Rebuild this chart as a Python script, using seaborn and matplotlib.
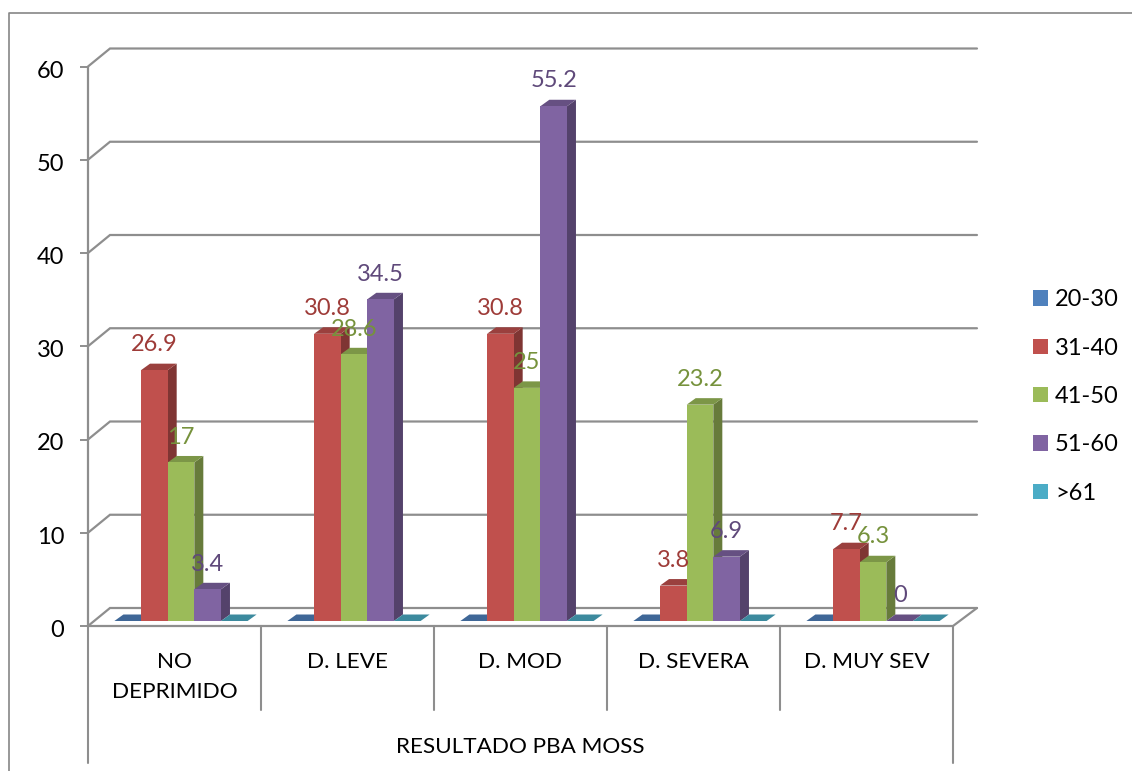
import matplotlib
matplotlib.use("Agg")
import matplotlib.pyplot as plt
import matplotlib.transforms as mtransforms
import pandas as pd
import seaborn as sns
from matplotlib.lines import Line2D
from matplotlib.patches import Patch, Polygon

categories = ["NO\nDEPRIMIDO", "D. LEVE", "D. MOD", "D. SEVERA", "D. MUY SEV"]
age_groups = ["20-30", "31-40", "41-50", "51-60", ">61"]
values_20_30 = [0, 0, 0, 0, 0]
values_31_40 = [26.9, 30.8, 30.8, 3.8, 7.7]
values_41_50 = [17, 28.6, 25, 23.2, 6.3]
values_51_60 = [3.4, 34.5, 55.2, 6.9, 0]
values_61_up = [0, 0, 0, 0, 0]
labelled_groups = ["31-40", "41-50", "51-60"]

front_colors = ["#4F81BD", "#C0504D", "#9BBB59", "#8064A2", "#4BACC6"]
top_colors = ["#3F6797", "#9A403E", "#7C9647", "#665082", "#3C8A9E"]
side_colors = ["#2F4D71", "#7F3533", "#677B3B", "#54426B", "#317182"]
label_colors = {"31-40": "#9E3B38", "41-50": "#76923C", "51-60": "#5F497A"}
GRAY = "#8E8E8E"
FONT = "Lato"
FS_TEXT = 16.2
FS_NUM = 17

W, H = 1132, 771
AX_L, AX_R, AX_B, AX_T = 88, 953, 626, 66.5

sns.set_theme(style="white")
plt.rcParams["font.family"] = [FONT, "DejaVu Sans"]

frame = pd.DataFrame({
    "categoria": categories * 5,
    "edad": [g for g in age_groups for _ in categories],
    "valor": values_20_30 + values_31_40 + values_41_50 + values_51_60 + values_61_up,
})

fig = plt.figure(figsize=(W / 100, H / 100), dpi=100, facecolor="white")
ax = fig.add_axes([AX_L / W, 1 - AX_B / H, (AX_R - AX_L) / W, (AX_B - AX_T) / H])

sns.barplot(data=frame, x="categoria", y="valor", hue="edad", hue_order=age_groups,
            palette=front_colors, saturation=1, width=0.77, gap=0, legend=False,
            errorbar=None, ax=ax)
ax.set_xlim(-0.5, 4.5)
ax.set_ylim(0, 60)
for side in ax.spines.values():
    side.set_visible(False)

# pixel lengths expressed in data units
ux = 5 / (AX_R - AX_L)
uy = 60 / (AX_B - AX_T)

# back wall and floor
wall_dx, wall_dy = 22 * ux, 18 * uy
for level in range(0, 70, 10):
    ax.plot([-0.5, -0.5 + wall_dx, 4.5 + wall_dx * 1.09],
            [level, level + wall_dy, level + wall_dy],
            color=GRAY, lw=1.6, clip_on=False, zorder=1, solid_joinstyle="miter")
ax.plot([-0.5, 4.5, 4.5 + wall_dx * 1.09], [0, 0, wall_dy], color=GRAY, lw=1.6,
        clip_on=False, zorder=2)
ax.plot([-0.5, -0.5], [0, 60], color=GRAY, lw=1.6, clip_on=False, zorder=2)

# extruded faces for every column, painted left to right
lift_x, lift_y = 6.5 * ux, 5 * uy
depth_x, depth_y = 9 * ux, 6.5 * uy
columns = []
for g, container in enumerate(ax.containers):
    for c, bar in enumerate(container):
        columns.append((bar.get_x(), g, c, bar))
columns.sort(key=lambda item: item[0])

for order, (_, g, c, bar) in enumerate(columns):
    x0 = bar.get_x() + lift_x
    y0 = bar.get_y() + lift_y
    w, h = bar.get_width(), bar.get_height()
    bar.set_x(x0)
    bar.set_y(y0)
    base = 5 + order * 3
    bar.set_zorder(base + 2)
    bar.set_linewidth(0)
    ax.add_patch(Polygon([(x0, y0 + h), (x0 + w, y0 + h),
                          (x0 + w + depth_x, y0 + h + depth_y), (x0 + depth_x, y0 + h + depth_y)],
                         closed=True, fc=top_colors[g], ec="none", zorder=base + 1, clip_on=False))
    ax.add_patch(Polygon([(x0 + w, y0), (x0 + w + depth_x, y0 + depth_y),
                          (x0 + w + depth_x, y0 + h + depth_y), (x0 + w, y0 + h)],
                         closed=True, fc=side_colors[g], ec="none", zorder=base, clip_on=False))
    name = age_groups[g]
    if name in labelled_groups:
        ax.annotate(f"{h:g}", (x0 + w / 2, y0 + h), xytext=(0, 18.2), textcoords="offset points",
                    ha="center", va="center", fontsize=FS_NUM, color=label_colors[name],
                    zorder=500, annotation_clip=False)

# axis ticks and labels
ax.set_yticks(range(0, 70, 10))
ax.tick_params(axis="y", length=6, width=1.4, color=GRAY, pad=11, labelsize=FS_NUM, labelcolor="black", left=True)
nudge_down = mtransforms.ScaledTranslation(0, -2.5 / 100, fig.dpi_scale_trans)
for tick in ax.get_yticklabels():
    tick.set_transform(tick.get_transform() + nudge_down)
ax.set_xticks(range(5))
ax.set_xticklabels(categories, linespacing=1.62)
ax.tick_params(axis="x", length=0, pad=18.5, labelsize=FS_TEXT, labelcolor="black")
ax.set_xlabel("RESULTADO PBA MOSS", fontsize=FS_TEXT, color="black")
ax.xaxis.set_label_coords(0.5, -(747 - AX_B) / (AX_B - AX_T), transform=ax.transAxes)
ax.xaxis.label.set_verticalalignment("center")
ax.set_ylabel("")


def fig_line(xs, ys, lw=1.4, color=GRAY):
    fig.add_artist(Line2D([x / W for x in xs], [1 - y / H for y in ys], color=color, lw=lw))


# multi-level category dividers
for i in range(6):
    x = AX_L + i * (AX_R - AX_L) / 5
    fig_line([x, x], [AX_B, 763 if i in (0, 5) else 710], lw=1.5)

# chart area border
fig_line([9, 9, W], [H, 12.5, 12.5], lw=1.2, color="#868686")

handles = [Patch(fc=color, ec="none") for color in front_colors]
fig.legend(handles, age_groups, loc="center left", bbox_to_anchor=(1033 / W, 1 - 396.5 / H),
           frameon=False, fontsize=FS_NUM, labelspacing=1.16, handlelength=0.635, handleheight=0.635,
           handletextpad=0.3, labelcolor="black", borderpad=0, borderaxespad=0)

fig.savefig("out.png", dpi=100, facecolor="white")
